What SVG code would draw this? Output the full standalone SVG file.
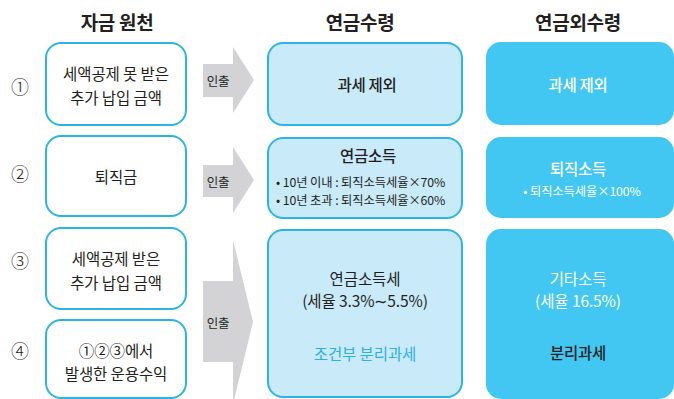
<svg xmlns="http://www.w3.org/2000/svg" width="674" height="399" viewBox="0 0 674 399">
<style>
text{font-family:"Noto Sans CJK KR","Noto Sans",sans-serif;fill:#231f20;text-anchor:middle;dominant-baseline:central}
.hd{font-size:19px;font-weight:700;letter-spacing:-0.3px}
.src{fill:#fff;stroke:#2bb5e7;stroke-width:2}
.mid{fill:#c9eaf9;stroke:#2bb5e7;stroke-width:2}
.out{fill:#42c6f2}
.arr{fill:#d3d3d5}
.t{font-size:15.5px;letter-spacing:-0.1px}
.tb{font-size:15.5px;font-weight:500;letter-spacing:-0.3px}
.s{font-size:12.3px;letter-spacing:-0.1px;text-anchor:start}
.w{fill:#fff}
.num{font-size:18px;font-weight:300}
.lab{font-size:12.5px;letter-spacing:-0.3px}
</style>
<g id="headers">
<text class="hd" x="117" y="21">자금 원천</text>
<text class="hd" x="360" y="21">연금수령</text>
<text class="hd" x="578" y="21">연금외수령</text>
</g>
<g id="numbers">
<text class="num" x="20" y="86">①</text>
<text class="num" x="20" y="173">②</text>
<text class="num" x="20" y="260">③</text>
<text class="num" x="20" y="350">④</text>
</g>
<g id="connectors">
<g id="arrow1"><polygon class="arr" points="203,64 233,64 233,47 254,80 233,113 233,97 203,97"/><text class="lab" x="218" y="80">인출</text></g>
<g id="arrow2"><polygon class="arr" points="203,165 233,165 233,147 254,180 233,213 233,197 203,197"/><text class="lab" x="218" y="181">인출</text></g>
<g id="arrow3"><polygon class="arr" points="203,281 233,281 233,240 253,322 233,404 233,362 203,362"/><text class="lab" x="218" y="322">인출</text></g>
</g>
<g id="src1"><rect class="src" x="46" y="43" width="140" height="82" rx="15"/><text class="t" x="116" y="73">세액공제 못 받은</text><text class="t" x="116" y="97">추가 납입 금액</text></g>
<g id="src2"><rect class="src" x="46" y="136" width="140" height="80" rx="15"/><text class="t" x="116" y="176">퇴직금</text></g>
<g id="src3"><rect class="src" x="46" y="228" width="140" height="81" rx="15"/><text class="t" x="116" y="258">세액공제 받은</text><text class="t" x="116" y="282">추가 납입 금액</text></g>
<g id="src4"><rect class="src" x="46" y="320" width="140" height="78" rx="15"/><text class="t" x="116" y="350">①②③에서</text><text class="t" x="116" y="373">발생한 운용수익</text></g>
<g id="mid1"><rect class="mid" x="268" y="43" width="194" height="82" rx="15"/><text class="tb" x="367" y="84">과세 제외</text></g>
<g id="mid2"><rect class="mid" x="268" y="138" width="194" height="80" rx="15"/><text class="tb" x="368" y="155">연금소득</text><text class="s" x="276" y="182">• 10년 이내 : 퇴직소득세율×70%</text><text class="s" x="276" y="200">• 10년 초과 : 퇴직소득세율×60%</text></g>
<g id="mid3"><rect class="mid" x="268" y="230" width="194" height="167" rx="15"/><text class="t" x="365" y="278">연금소득세</text><text class="t" x="365" y="300">(세율 3.3%∼5.5%)</text><text class="t" x="365" y="353" style="fill:#29b1e6">조건부 분리과세</text></g>
<g id="out1"><rect class="out" x="486" y="42" width="188" height="83" rx="15"/><text class="tb w" x="578" y="84">과세 제외</text></g>
<g id="out2"><rect class="out" x="486" y="137" width="188" height="81" rx="15"/><text class="tb w" x="578" y="168">퇴직소득</text><text class="s w" x="582" y="191" style="text-anchor:middle">• 퇴직소득세율×100%</text></g>
<g id="out3"><rect class="out" x="486" y="229" width="188" height="170" rx="15"/><text class="t w" x="578" y="278">기타소득</text><text class="t w" x="578" y="300">(세율 16.5%)</text><text class="tb" x="578" y="352">분리과세</text></g>
</svg>
